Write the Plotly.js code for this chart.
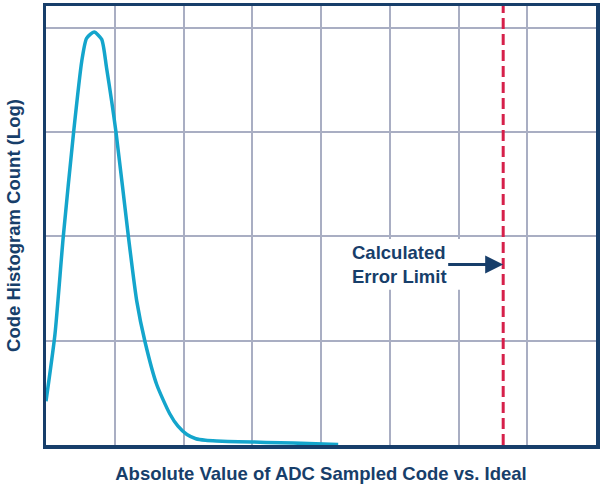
<!DOCTYPE html>
<html>
<head>
<meta charset="utf-8">
<script src="https://cdn.plot.ly/plotly-3.0.1.min.js"></script>
<style>
  html, body { margin: 0; padding: 0; background: #fff; }
  #chart { width: 604px; height: 490px; }
</style>
</head>
<body>
<div id="chart"></div>
<script>
// histogram envelope, x in grid units, y in log decades
const codeDeviation = [0, 0.13, 0.25, 0.40, 0.52, 0.59, 0.70, 0.81, 0.88, 1.02, 1.20, 1.32, 1.44, 1.61, 1.80, 1.92, 2.05, 2.18, 2.32, 2.48, 2.80, 3.20, 3.60, 4.25];
const logCount = [0.42, 1.06, 1.99, 2.99, 3.68, 3.90, 3.96, 3.89, 3.62, 2.99, 1.99, 1.38, 0.99, 0.58, 0.30, 0.18, 0.10, 0.06, 0.045, 0.038, 0.032, 0.025, 0.018, 0.005];
const errorLimit = 6.65;
const limitLabel = "Calculated<br>Error Limit";
const xTitle = "Absolute Value of ADC Sampled Code vs. Ideal";
const yTitle = "Code Histogram Count (Log)";

const navy = "#173e6a";
const gridColor = "#a9aec3";

var trace = {
  x: codeDeviation,
  y: logCount,
  type: "scatter",
  mode: "lines",
  line: { color: "#14a5cc", width: 3.5, shape: "spline", smoothing: 0.6 },
  hoverinfo: "skip",
  showlegend: false,
};

var layout = {
  width: 604,
  height: 490,
  margin: { l: 46, r: 8, t: 6, b: 45 },
  paper_bgcolor: "#fff",
  plot_bgcolor: "#fff",
  font: { family: "Liberation Sans, Arial, sans-serif", color: navy },
  xaxis: {
    range: [0, 8],
    dtick: 1,
    showgrid: true,
    gridcolor: gridColor,
    gridwidth: 2,
    zeroline: false,
    showticklabels: false,
    ticks: "",
    showline: true,
    linecolor: navy,
    linewidth: 3.5,
    mirror: true,
    title: { text: xTitle, font: { size: 18.5, weight: "bold", color: navy }, standoff: 20 },
  },
  yaxis: {
    range: [0, 4.21],
    dtick: 1,
    showgrid: true,
    gridcolor: gridColor,
    gridwidth: 2,
    zeroline: false,
    showticklabels: false,
    ticks: "",
    showline: true,
    linecolor: navy,
    linewidth: 3.5,
    mirror: true,
    title: { text: yTitle, font: { size: 18.5, weight: "bold", color: navy }, standoff: 18 },
  },
  shapes: [
    // white patch behind the label, hides grid lines
    {
      type: "rect", xref: "x", yref: "y",
      x0: 4.35, x1: 6.09, y0: 1.49, y1: 1.975,
      fillcolor: "#fff", line: { width: 0 }, layer: "between",
    },
    {
      type: "line", xref: "x", yref: "paper",
      x0: errorLimit, x1: errorLimit, y0: 0, y1: 1,
      line: { color: "#d6204a", width: 3, dash: "11px,5px" },
      layer: "above",
    },
  ],
  annotations: [
    {
      x: errorLimit, y: 1.73, xref: "x", yref: "y",
      text: limitLabel,
      align: "left",
      showarrow: true,
      arrowhead: 2,
      arrowsize: 1.2,
      arrowwidth: 3,
      arrowcolor: navy,
      ax: -104, ay: 0,
      borderpad: 1,
      font: { size: 18.5, weight: "bold", color: navy },
    },
  ],
};

Plotly.newPlot("chart", [trace], layout, { displayModeBar: false, staticPlot: true });
</script>
</body>
</html>
